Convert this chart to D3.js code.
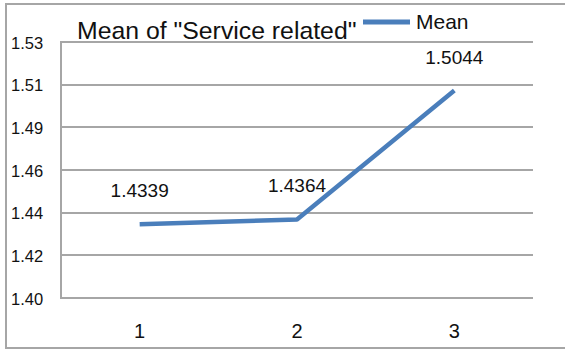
<!DOCTYPE html>
<html>
<head>
<meta charset="utf-8">
<script src="https://cdn.jsdelivr.net/npm/d3@7"></script>
<style>
  html, body { margin: 0; padding: 0; background: #fff; }
  svg { display: block; font-family: "Liberation Sans", Arial, sans-serif; }
</style>
</head>
<body>
<svg id="chart" width="565" height="350"></svg>
<script>
const categories = ["1", "2", "3"];
const meanValues = [1.4339, 1.4364, 1.5044];
const valueLabels = ["1.4339", "1.4364", "1.5044"];
const yTickValues = [1.395, 1.4175, 1.44, 1.4625, 1.485, 1.5075, 1.53];
const yTickLabels = ["1.40", "1.42", "1.44", "1.46", "1.49", "1.51", "1.53"];
const titleText = "Mean of \"Service related\"";
const seriesName = "Mean";

const svg = d3.select("#chart");
const W = 565, H = 350;
const plot = { left: 61, right: 533, top: 42, bottom: 298 };

const x = d3.scaleBand().domain(categories).range([plot.left, plot.right]).padding(0);
const y = d3.scaleLinear().domain([1.395, 1.53]).range([plot.bottom, plot.top]);

// outer border
svg.append("rect")
  .attr("x", 6).attr("y", 4).attr("width", W).attr("height", 344)
  .attr("fill", "none").attr("stroke", "#a6a6a6").attr("stroke-width", 2);

// gridlines
svg.append("g").selectAll("line").data(yTickValues).join("line")
  .attr("x1", plot.left).attr("x2", plot.right)
  .attr("y1", d => Math.round(y(d))).attr("y2", d => Math.round(y(d)))
  .attr("stroke", "#a6a6a6").attr("stroke-width", 2);

// left axis line
svg.append("line")
  .attr("x1", plot.left).attr("x2", plot.left)
  .attr("y1", plot.top - 1).attr("y2", plot.bottom + 1)
  .attr("stroke", "#a6a6a6").attr("stroke-width", 2);

// y tick labels
svg.append("g").selectAll("text").data(yTickValues).join("text")
  .attr("x", 11).attr("y", d => y(d) + 6.5)
  .attr("font-size", 16.5).attr("fill", "#111")
  .text((d, i) => yTickLabels[i]);

// x tick labels
svg.append("g").selectAll("text").data(categories).join("text")
  .attr("x", d => x(d) + x.bandwidth() / 2).attr("y", 338)
  .attr("text-anchor", "middle").attr("font-size", 20).attr("fill", "#111")
  .text(d => d);

// line
const line = d3.line()
  .x((d, i) => x(categories[i]) + x.bandwidth() / 2)
  .y(d => y(d));
svg.append("path").datum(meanValues)
  .attr("d", line).attr("fill", "none")
  .attr("stroke", "#4a7ebb").attr("stroke-width", 4.5)
  .attr("stroke-linejoin", "round");

// data labels
svg.append("g").selectAll("text").data(meanValues).join("text")
  .attr("x", (d, i) => x(categories[i]) + x.bandwidth() / 2)
  .attr("y", d => y(d) - 27)
  .attr("text-anchor", "middle").attr("font-size", 19).attr("fill", "#111")
  .text((d, i) => valueLabels[i]);

// title
svg.append("text")
  .attr("x", 77).attr("y", 39)
  .attr("font-size", 24.8).attr("fill", "#111")
  .text(titleText);

// legend
svg.append("rect").attr("x", 360).attr("y", 8).attr("width", 118).attr("height", 30).attr("fill", "#fff");
svg.append("line")
  .attr("x1", 363).attr("x2", 410).attr("y1", 22).attr("y2", 22)
  .attr("stroke", "#4a7ebb").attr("stroke-width", 5);
svg.append("text")
  .attr("x", 416).attr("y", 29)
  .attr("font-size", 21).attr("fill", "#111")
  .text(seriesName);
</script>
</body>
</html>
